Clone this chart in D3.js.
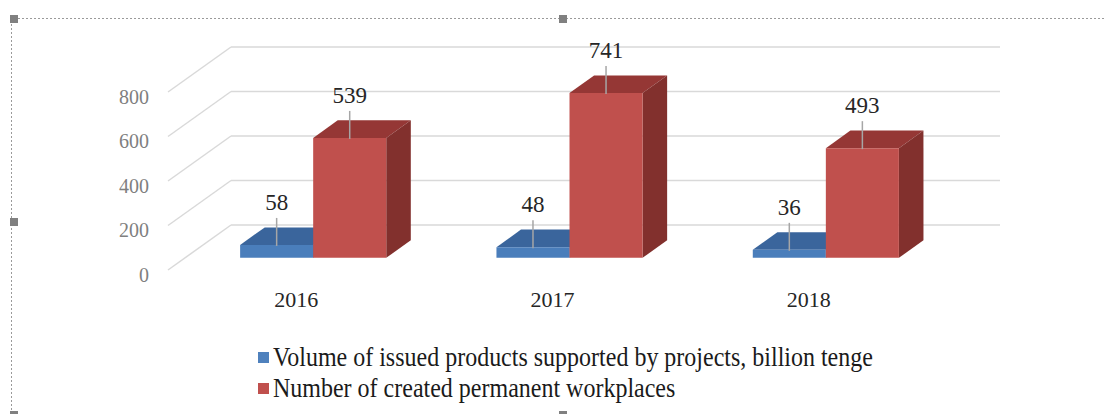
<!DOCTYPE html>
<html>
<head>
<meta charset="utf-8">
<script src="https://cdn.jsdelivr.net/npm/d3@7"></script>
</head>
<body style="margin:0; padding:0; background:#fff">
<svg id="chart" width="1104" height="414" style="display:block"></svg>
<script>
// Chart data
const years = ['2016', '2017', '2018'];
const seriesNames = [
  'Volume of issued products supported by projects, billion tenge',
  'Number of created permanent workplaces'
];
const volumeValues = [58, 48, 36];
const workplaceValues = [539, 741, 493];
const yTicks = [0, 200, 400, 600, 800];

const FONT = "'Liberation Serif'";
const svg = d3.select('#chart');

// 3D look: depth offset of the floor / wall and of the bars
const depth = {dx: 63, dy: 45};
const barDepth = {from: 0.27, to: 0.66};

// Set the ranges (front plane)
const x = d3.scaleBand()
  .domain(years)
  .range([168, 937])
  .paddingInner(0.43)
  .paddingOuter(0.215);

const xSeries = d3.scaleBand()
  .domain([0, 1])
  .range([0, x.bandwidth()]);

const y = d3.scaleLinear()
  .domain([0, 800])
  .range([270, 92]);

const colors = [
  {front: '#4a7ebb', top: '#3a659c', side: '#2f5383', legend: '#4f81bd'},
  {front: '#c0504d', top: '#953735', side: '#82302d', legend: '#c0504d'}
];

// project a point (front x, value, depth fraction) onto the screen
function proj(px, v, d) {
  return [px + depth.dx * d, y(v) - depth.dy * d];
}

// Selection frame round the chart
const frame = svg.append('g').attr('fill', 'none').attr('stroke', '#9a9a9a').attr('stroke-dasharray', '2,2');
frame.append('line').attr('x1', 14).attr('x2', 1104).attr('y1', 18.5).attr('y2', 18.5);
frame.append('line').attr('x1', 11.5).attr('x2', 11.5).attr('y1', 20).attr('y2', 414);

const handles = [[10, 15], [559, 15], [10, 218], [10, 411], [559, 411]];
svg.append('g')
  .selectAll('rect')
  .data(handles)
  .join('rect')
    .attr('x', d => d[0])
    .attr('y', d => d[1])
    .attr('width', 8)
    .attr('height', 8)
    .attr('fill', '#808080');

// Back wall grid lines and side wall lines
const grid = svg.append('g').attr('stroke', '#d9d9d9').attr('stroke-width', 1.5).attr('fill', 'none');
const x0 = x.range()[0];
const x1 = x.range()[1];

grid.selectAll('.back')
  .data(yTicks)
  .join('line')
    .attr('class', 'back')
    .attr('x1', d => proj(x0, d, 1)[0])
    .attr('y1', d => proj(x0, d, 1)[1])
    .attr('x2', d => proj(x1, d, 1)[0])
    .attr('y2', d => proj(x1, d, 1)[1]);

grid.selectAll('.side')
  .data(yTicks)
  .join('line')
    .attr('class', 'side')
    .attr('x1', d => proj(x0, d, 0)[0])
    .attr('y1', d => proj(x0, d, 0)[1])
    .attr('x2', d => proj(x0, d, 1)[0])
    .attr('y2', d => proj(x0, d, 1)[1]);

// Y axis labels
const yAxis = d3.axisLeft(y)
  .tickValues(yTicks)
  .tickSize(0)
  .tickPadding(19);

const yAxisG = svg.append('g')
  .attr('transform', `translate(${x0},0)`)
  .call(yAxis);
yAxisG.select('.domain').remove();
yAxisG.selectAll('text')
  .style('font-family', FONT)
  .style('font-size', '20px')
  .attr('fill', '#7f7f7f')
  .attr('dy', '0.55em');

// Bars
const bars = [];
years.forEach((yr, i) => {
  [volumeValues[i], workplaceValues[i]].forEach((v, s) => {
    bars.push({year: yr, series: s, value: v});
  });
});

function poly(pts) {
  return 'M' + pts.map(p => p.join(',')).join('L') + 'Z';
}

const barG = svg.append('g');
bars.forEach(b => {
  const left = x(b.year) + xSeries(b.series);
  const right = left + xSeries.bandwidth();
  const f = barDepth.from;
  const t = barDepth.to;
  const c = colors[b.series];

  // top face
  barG.append('path')
    .attr('d', poly([proj(left, b.value, f), proj(right, b.value, f), proj(right, b.value, t), proj(left, b.value, t)]))
    .attr('fill', c.top);

  // right side face
  barG.append('path')
    .attr('d', poly([proj(right, 0, f), proj(right, b.value, f), proj(right, b.value, t), proj(right, 0, t)]))
    .attr('fill', c.side);

  // front face
  barG.append('path')
    .attr('d', poly([proj(left, 0, f), proj(right, 0, f), proj(right, b.value, f), proj(left, b.value, f)]))
    .attr('fill', c.front);
});

// Data labels with leader lines
const labelG = svg.append('g');
bars.forEach(b => {
  const cx = x(b.year) + xSeries(b.series) + xSeries.bandwidth() / 2;
  const top = proj(cx, b.value, barDepth.from);
  const base = top[1] - 35;

  labelG.append('line')
    .attr('x1', top[0])
    .attr('x2', top[0])
    .attr('y1', base + 8)
    .attr('y2', top[1] + 1)
    .attr('stroke', '#a6a6a6')
    .attr('stroke-width', 1.5);

  labelG.append('text')
    .attr('x', top[0])
    .attr('y', base)
    .attr('text-anchor', 'middle')
    .style('font-family', FONT)
    .style('font-size', '23px')
    .attr('fill', '#262626')
    .text(b.value);
});

// X axis labels (category names)
const xAxis = d3.axisBottom(x).tickSize(0).tickPadding(0);
const xAxisG = svg.append('g')
  .attr('transform', 'translate(0,307)')
  .call(xAxis);
xAxisG.select('.domain').remove();
xAxisG.selectAll('text')
  .style('font-family', FONT)
  .style('font-size', '22px')
  .attr('fill', '#262626')
  .attr('dy', 0);

// Legend
const legend = svg.append('g');
const legendRows = [366, 397];
seriesNames.forEach((name, i) => {
  legend.append('rect')
    .attr('x', 258)
    .attr('y', legendRows[i] - 14)
    .attr('width', 11)
    .attr('height', 11)
    .attr('fill', colors[i].legend);

  legend.append('text')
    .attr('transform', `translate(273,${legendRows[i]}) scale(1,1.1)`)
    .style('font-family', FONT)
    .style('font-size', '24px')
    .attr('fill', '#1a1a1a')
    .text(name);
});
</script>
</body>
</html>
